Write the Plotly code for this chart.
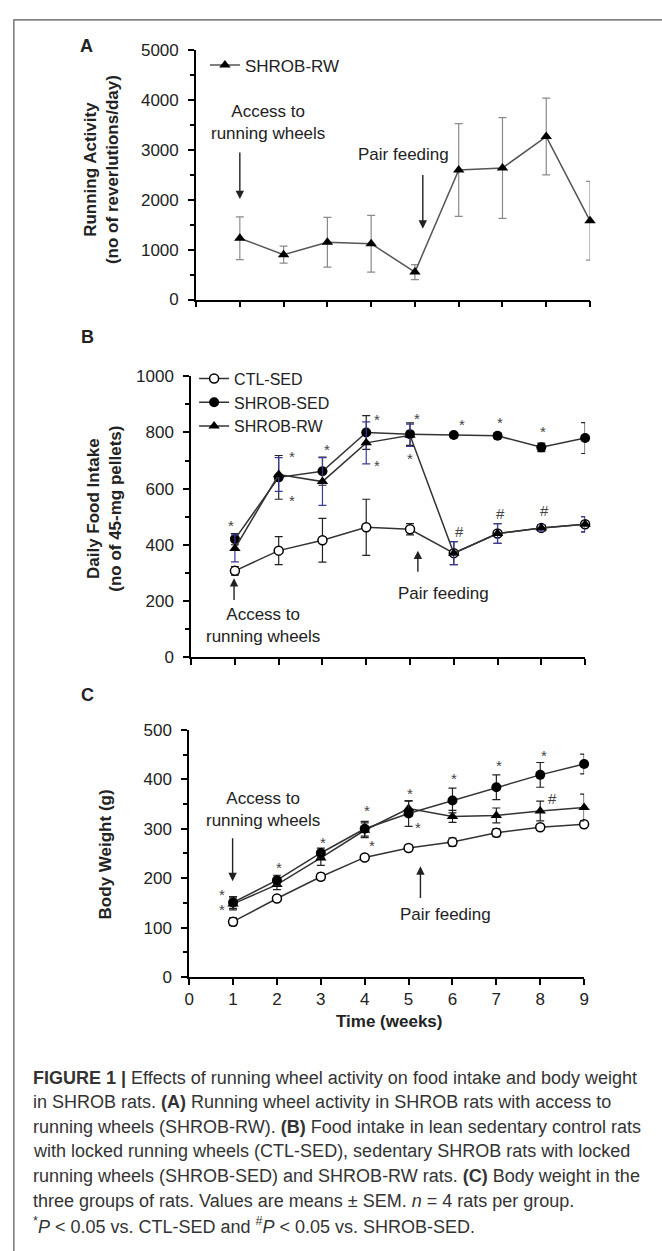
import plotly.graph_objects as go

# ---------------- data ----------------
weeks = [1, 2, 3, 4, 5, 6, 7, 8, 9]

# Panel A: running activity (SHROB-RW)
run_mean = [1230, 900, 1150, 1120, 550, 2600, 2640, 3270, 1580]
run_sem = [430, 170, 500, 570, 150, 930, 1010, 770, 790]

# Panel B: daily food intake
food_ctl = [307, 379, 416, 462, 455, 370, 440, 460, 473]
food_ctl_sem = [15, 50, 78, 100, 20, 41, 35, 12, 27]
food_sed = [420, 640, 662, 800, 794, 791, 788, 747, 780]
food_sed_sem = [20, 78, 50, 60, 40, 8, 10, 15, 55]
food_rw = [387, 650, 625, 763, 790, 370, 440, 460, 473]
food_rw_sem = [48, 60, 85, 75, 40, 41, 35, 12, 27]

# Panel C: body weight
bw_ctl = [112, 159, 203, 242, 261, 273, 292, 303, 309]
bw_ctl_sem = [8, 6, 7, 5, 6, 8, 8, 6, 7]
bw_sed = [151, 196, 251, 300, 331, 357, 384, 409, 431]
bw_sed_sem = [12, 10, 10, 15, 26, 25, 25, 25, 20]
bw_rw = [148, 187, 241, 297, 341, 325, 327, 336, 343]
bw_rw_sem = [12, 10, 15, 15, 15, 12, 15, 20, 27]

# significance marks (label, week position, value position)
sig_b = [("*", 0.9, 470), ("*", 2.3, 716), ("*", 2.3, 558), ("*", 3.11, 738),
         ("*", 4.25, 845), ("*", 4.24, 683), ("*", 5.17, 849), ("*", 5.01, 706),
         ("*", 6.18, 827), ("*", 7.06, 835), ("*", 8.03, 804), ("*", 9.11, 868),
         ("#", 6.14, 446), ("#", 7.06, 510), ("#", 8.08, 522), ("#", 9.03, 540)]
sig_c = [("*", 0.74, 167), ("*", 0.74, 136), ("*", 2.05, 221), ("*", 3.04, 272),
         ("*", 4.06, 337), ("*", 4.16, 267), ("*", 5.04, 372), ("*", 5.22, 303),
         ("*", 6.03, 401), ("*", 7.07, 427), ("*", 8.08, 449), ("*", 9.05, 467),
         ("#", 8.28, 362), ("#", 9.09, 387)]

x_ticks = list(range(0, 10))

caption_lines = [
    "<b>FIGURE 1 |</b> Effects of running wheel activity on food intake and body weight",
    "in SHROB rats. <b>(A)</b> Running wheel activity in SHROB rats with access to",
    "running wheels (SHROB-RW). <b>(B)</b> Food intake in lean sedentary control rats",
    "with locked running wheels (CTL-SED), sedentary SHROB rats with locked",
    "running wheels (SHROB-SED) and SHROB-RW rats. <b>(C)</b> Body weight in the",
    "three groups of rats. Values are means \u00b1 SEM. <i>n</i> = 4 rats per group.",
    "<sup>*</sup><i>P</i> < 0.05 vs. CTL-SED and <sup>#</sup><i>P</i> < 0.05 vs. SHROB-SED.",
]

# ---------------- layout helpers ----------------
W, H = 662, 1251
FONT = "Liberation Sans, Arial, sans-serif"
TXT = "#222222"


def px(x):
    return x / W


def py(y):
    return 1 - y / H


fig = go.Figure()

# Panel A
fig.add_trace(go.Scatter(
    x=weeks, y=run_mean, mode="lines+markers", name="SHROB-RW",
    line=dict(color="#555555", width=1.5),
    marker=dict(symbol="triangle-up", size=10, color="black"),
    error_y=dict(type="data", array=run_sem, color="#8a8a8a", thickness=1.2, width=4),
    xaxis="x", yaxis="y", legend="legend", cliponaxis=False))

# Panel B
fig.add_trace(go.Scatter(
    x=weeks, y=food_ctl, mode="lines+markers", name="CTL-SED",
    line=dict(color="#333333", width=1.5),
    marker=dict(symbol="circle", size=9, color="white", line=dict(color="black", width=1.5)),
    error_y=dict(type="data", array=food_ctl_sem, color="#222222", thickness=1.2, width=4),
    xaxis="x2", yaxis="y2", legend="legend2", cliponaxis=False))
fig.add_trace(go.Scatter(
    x=weeks, y=food_sed, mode="lines+markers", name="SHROB-SED",
    line=dict(color="#333333", width=1.5),
    marker=dict(symbol="circle", size=10, color="black"),
    error_y=dict(type="data", array=food_sed_sem, color="#222222", thickness=1.2, width=4),
    xaxis="x2", yaxis="y2", legend="legend2", cliponaxis=False))
fig.add_trace(go.Scatter(
    x=weeks, y=food_rw, mode="lines+markers", name="SHROB-RW",
    line=dict(color="#333333", width=1.5),
    marker=dict(symbol="triangle-up", size=10, color="black"),
    error_y=dict(type="data", array=food_rw_sem, color="#3b3b9a", thickness=1.2, width=4),
    xaxis="x2", yaxis="y2", legend="legend2", cliponaxis=False))

# Panel C
fig.add_trace(go.Scatter(
    x=weeks, y=bw_ctl, mode="lines+markers", name="CTL-SED", showlegend=False,
    line=dict(color="#333333", width=1.5),
    marker=dict(symbol="circle", size=9, color="white", line=dict(color="black", width=1.5)),
    error_y=dict(type="data", array=bw_ctl_sem, color="#222222", thickness=1.2, width=4),
    xaxis="x3", yaxis="y3", cliponaxis=False))
fig.add_trace(go.Scatter(
    x=weeks, y=bw_rw, mode="lines+markers", name="SHROB-RW", showlegend=False,
    line=dict(color="#333333", width=1.5),
    marker=dict(symbol="triangle-up", size=10, color="black"),
    error_y=dict(type="data", array=bw_rw_sem, color="#222222", thickness=1.2, width=4),
    xaxis="x3", yaxis="y3", cliponaxis=False))
fig.add_trace(go.Scatter(
    x=weeks, y=bw_sed, mode="lines+markers", name="SHROB-SED", showlegend=False,
    line=dict(color="#333333", width=1.5),
    marker=dict(symbol="circle", size=10, color="black"),
    error_y=dict(type="data", array=bw_sed_sem, color="#222222", thickness=1.2, width=4),
    xaxis="x3", yaxis="y3", cliponaxis=False))

axis_common = dict(showline=True, linecolor="black", linewidth=1.8, ticks="outside",
                   ticklen=6, tickwidth=1.5, tickcolor="black", showgrid=False,
                   zeroline=False, tickfont=dict(family=FONT, size=17, color=TXT))


def xaxis(domain, anchor, labels):
    d = dict(axis_common)
    d.update(domain=domain, anchor=anchor, range=[0, 9], tickmode="array",
             tickvals=x_ticks, showticklabels=labels)
    return d


def yaxis(domain, anchor, rng, dtick, minor):
    d = dict(axis_common)
    d.update(domain=domain, anchor=anchor, range=rng, dtick=dtick,
             minor=dict(dtick=minor, ticks="outside", ticklen=4, tickwidth=1.5, tickcolor="black"),
             ticklabelstandoff=6)
    return d


# pixel positions of axes
A_x = [194, 594]; A_y = [295, 42]
B_x = [189, 589]; B_y = [658, 373]
C_x = [187, 588]; C_y = [983, 732]

fig.update_layout(
    width=W, height=H, margin=dict(l=0, r=0, t=0, b=0),
    paper_bgcolor="white", plot_bgcolor="white",
    font=dict(family=FONT, size=16, color=TXT),
    xaxis=xaxis([px(A_x[0]), px(A_x[1])], "y", False),
    yaxis=yaxis([py(A_y[0]), py(A_y[1])], "x", [0, 5000], 1000, 500),
    xaxis2=xaxis([px(B_x[0]), px(B_x[1])], "y2", False),
    yaxis2=yaxis([py(B_y[0]), py(B_y[1])], "x2", [0, 1000], 200, 100),
    xaxis3=xaxis([px(C_x[0]), px(C_x[1])], "y3", True),
    yaxis3=yaxis([py(C_y[0]), py(C_y[1])], "x3", [0, 500], 100, 50),
    legend=dict(x=px(203), y=py(39), xanchor="left", yanchor="top",
                bgcolor="rgba(0,0,0,0)", font=dict(size=17, color=TXT), tracegroupgap=0),
    legend2=dict(x=px(192), y=py(358), xanchor="left", yanchor="top",
                 bgcolor="rgba(0,0,0,0)", font=dict(size=16, color=TXT), tracegroupgap=0),
)

ann = []
# panel letters
for lab, (lx, ly) in zip(["A", "B", "C"], [(83, 38), (84, 333), (84, 697)]):
    ann.append(dict(x=px(lx), y=py(ly), xref="paper", yref="paper", text=f"<b>{lab}</b>",
                    xanchor="center", yanchor="middle",
                    showarrow=False, font=dict(size=18, color=TXT)))
# y titles
ann.append(dict(x=px(98), y=py(163), xref="paper", yref="paper", textangle=-90,
                xanchor="center", yanchor="middle",
                text="<b>Running Activity</b><br><b>(no of reverlutions/day)</b>",
                showarrow=False, font=dict(size=17, color=TXT)))
ann.append(dict(x=px(101), y=py(507), xref="paper", yref="paper", textangle=-90,
                xanchor="center", yanchor="middle",
                text="<b>Daily Food Intake</b><br><b>(no of 45-mg pellets)</b>",
                showarrow=False, font=dict(size=17, color=TXT)))
ann.append(dict(x=px(103), y=py(858), xref="paper", yref="paper", textangle=-90,
                xanchor="center", yanchor="middle",
                text="<b>Body Weight (g)</b>", showarrow=False, font=dict(size=17, color=TXT)))
ann.append(dict(x=px(390), y=py(1028), xref="paper", yref="paper",
                xanchor="center", yanchor="middle",
                text="<b>Time (weeks)</b>", showarrow=False, font=dict(size=17, color=TXT)))

# event labels
ev_font = dict(size=17, color=TXT)
ann += [
    dict(x=1.65, y=3557, xref="x", yref="y", text="Access to<br>running wheels", showarrow=False, font=ev_font),
    dict(x=4.74, y=2905, xref="x", yref="y", text="Pair feeding", showarrow=False, font=ev_font),
    dict(x=1.64, y=112, xref="x2", yref="y2", text="Access to<br>running wheels", showarrow=False, font=ev_font),
    dict(x=5.77, y=225, xref="x2", yref="y2", text="Pair feeding", showarrow=False, font=ev_font),
    dict(x=1.68, y=339, xref="x3", yref="y3", text="Access to<br>running wheels", showarrow=False, font=ev_font),
    dict(x=5.83, y=126, xref="x3", yref="y3", text="Pair feeding", showarrow=False, font=ev_font),
]
# arrows (head at x,y ; tail at ax,ay)
arrow_style = dict(showarrow=True, arrowhead=2, arrowsize=1.2, arrowwidth=1.4,
                   arrowcolor="#222222", text="")
for (x, y, ax, ay, xr, yr) in [(1, 2015, 1, 2980, "x", "y"), (5.18, 1420, 5.18, 2530, "x", "y"),
                               (0.98, 281, 0.98, 198, "x2", "y2"), (5.18, 379, 5.18, 298, "x2", "y2"),
                               (0.99, 194, 0.99, 284, "x3", "y3"), (5.27, 224, 5.27, 157, "x3", "y3")]:
    a = dict(arrow_style)
    a.update(x=x, y=y, ax=ax, ay=ay, xref=xr, yref=yr, axref=xr, ayref=yr)
    ann.append(a)

# significance marks
for lab, x, y in sig_b:
    ann.append(dict(x=x, y=y, xref="x2", yref="y2", text=lab, showarrow=False,
                    font=dict(size=15, color="#444444")))
for lab, x, y in sig_c:
    ann.append(dict(x=x, y=y, xref="x3", yref="y3", text=lab, showarrow=False,
                    font=dict(size=15, color="#444444")))

# caption
for i, line in enumerate(caption_lines):
    ann.append(dict(x=px(26), y=py(1085 + i * 25), xref="paper", yref="paper", text=line,
                    xanchor="left", yanchor="middle", showarrow=False, align="left",
                    font=dict(size=18, color="#333333")))

fig.update_layout(annotations=ann)

# outer frame
fig.add_shape(type="rect", xref="paper", yref="paper", x0=px(9), x1=px(680), y0=py(1270), y1=py(11),
              line=dict(color="#555555", width=1.2), fillcolor="rgba(0,0,0,0)")

fig.write_html("out.html", config={"displayModeBar": False},
               post_script="document.body.style.margin='0px';"
                           "document.documentElement.style.overflow='hidden';")
